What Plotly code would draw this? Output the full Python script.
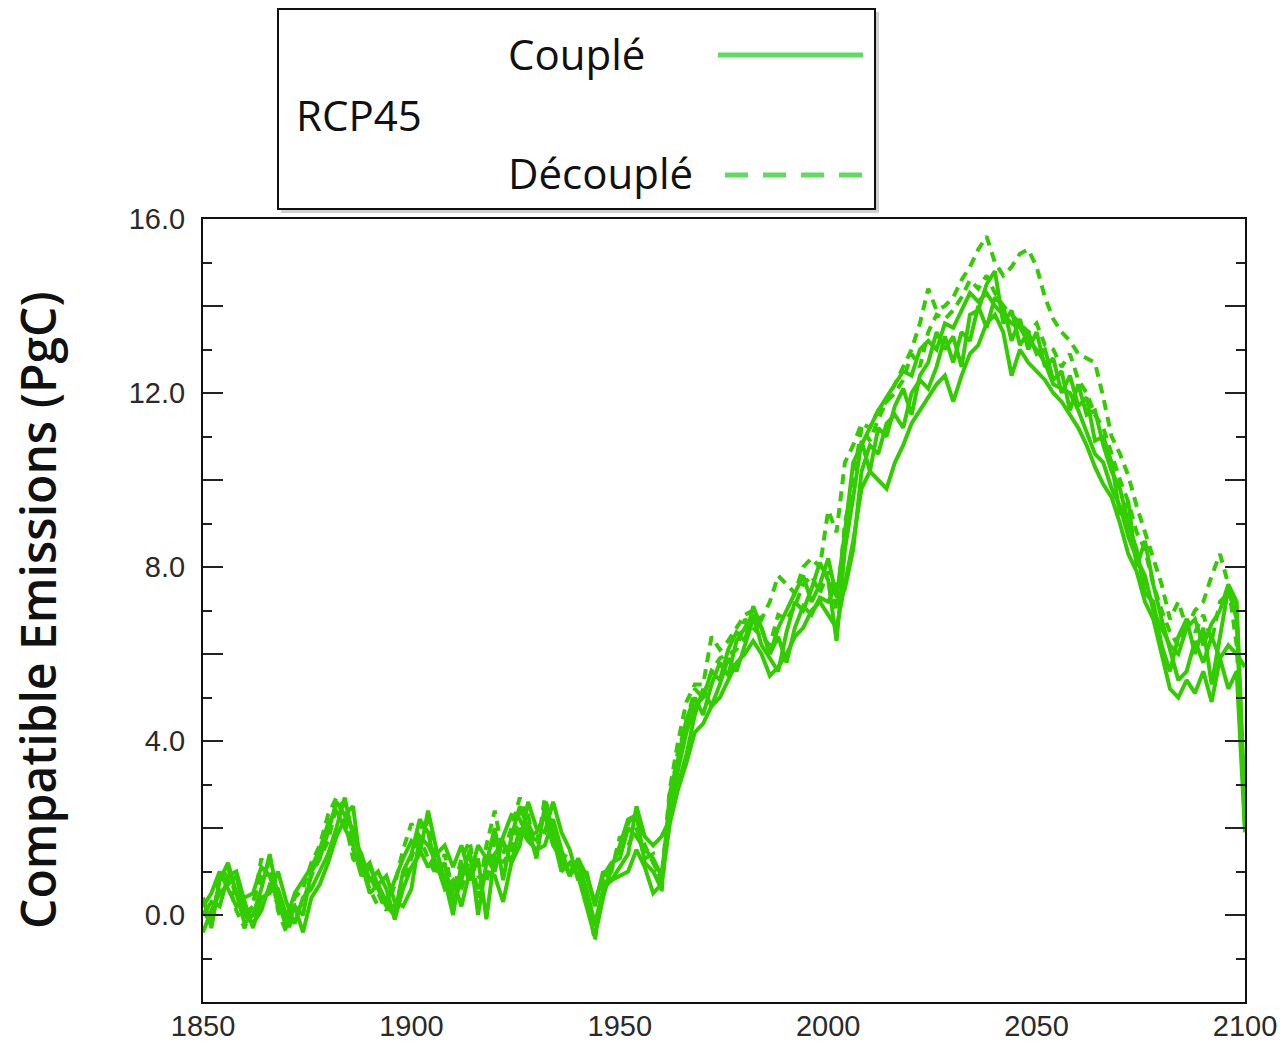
import plotly.graph_objects as go

years = list(range(1850, 2101, 2))

couple_a = [0.4, -0.3, 0.8, 1.2, 0.5, -0.2, 0.0, 0.6, 1.4, 0.4,
            -0.3, 0.2, 0.0, 1.0, 1.3, 1.9, 2.6, 2.3, 2.5, 1.0,
            1.2, 0.6, 0.2, 0.0, 1.0, 1.4, 2.2, 1.9, 1.0, 1.2,
            0.2, 0.8, 1.5, 0.0, 1.2, 2.0, 0.8, 1.8, 2.5, 2.0,
            1.3, 2.5, 1.8, 1.0, 1.2, 0.9, 0.2, -0.5, 0.4, 1.1,
            1.6, 2.2, 2.3, 1.2, 1.0, 0.6, 2.8, 3.6, 4.5, 5.0,
            4.6, 5.3, 5.8, 5.5, 6.3, 6.6, 6.9, 6.2, 5.9, 5.6,
            6.5, 7.2, 7.0, 7.5, 8.1, 7.7, 6.3, 8.4, 9.6, 10.9,
            10.2, 11.2, 11.0, 11.7, 12.1, 11.5, 12.4, 12.7, 13.4, 13.0,
            13.3, 12.6, 13.8, 13.9, 14.5, 14.8, 13.6, 13.9, 13.1, 13.4,
            12.9, 13.0, 12.3, 12.5, 11.6, 12.2, 11.5, 11.6, 10.8, 10.2,
            9.8, 9.0, 8.4, 7.4, 7.2, 6.2, 5.6, 6.4, 6.8, 6.0,
            6.6, 5.3, 6.4, 7.5, 6.8, 2.0]

couple_b = [0.0, 0.3, 0.2, 0.9, 1.0, 0.3, -0.3, 0.4, 0.5, 1.0,
            0.3, -0.2, 0.4, 0.6, 1.0, 1.4, 2.0, 2.7, 1.8, 1.4,
            0.8, 1.0, 0.6, -0.1, 0.6, 1.1, 1.4, 2.4, 1.5, 0.8,
            0.0, 1.2, 0.8, 1.3, -0.1, 1.4, 1.7, 1.2, 1.6, 2.6,
            2.0, 1.9, 2.6, 1.9, 1.5, 0.8, 1.0, 0.2, 1.0, 0.8,
            1.1, 1.4, 2.5, 1.8, 1.6, 1.8, 2.2, 3.0, 3.7, 4.6,
            5.2, 4.8, 5.3, 5.9, 5.6, 6.2, 6.8, 6.6, 6.0, 6.4,
            5.8, 6.6, 7.1, 6.9, 7.3, 7.2, 7.6, 7.5, 8.4, 10.2,
            10.8, 10.6, 11.3, 11.5, 11.2, 12.0, 12.3, 12.1, 12.6, 13.3,
            12.7, 13.4, 13.2, 14.0, 13.5, 14.2, 14.0, 13.2, 13.7, 13.0,
            13.4, 12.6, 12.8, 12.0, 12.4, 11.7, 11.9, 10.9, 11.0, 10.4,
            9.2, 9.5, 8.0, 8.6, 7.6, 6.8, 6.1, 5.4, 5.6, 6.3,
            5.8, 6.4, 5.9, 6.2, 6.0, 5.7]

couple_c = [-0.4, 0.1, 0.5, 0.7, 0.9, 0.0, -0.2, 0.1, 0.7, 0.6,
            0.0, 0.2, -0.4, 0.4, 0.7, 1.2, 1.8, 2.2, 2.0, 1.2,
            0.5, 0.7, 0.9, 0.3, 0.2, 0.6, 1.8, 1.6, 1.2, 0.6,
            0.8, 0.2, 1.0, 0.6, 1.0, 0.9, 0.3, 1.2, 2.0, 1.7,
            1.5, 1.6, 2.2, 1.5, 0.9, 1.2, 0.6, -0.2, 0.6, 0.8,
            0.9, 1.0, 1.5, 1.1, 0.5, 0.7, 2.1, 2.9, 3.5, 4.2,
            4.4, 4.8, 5.0, 5.4, 5.8, 6.0, 6.3, 6.0, 5.5, 5.7,
            6.0, 6.4, 6.6, 7.0, 7.2, 6.9, 6.6, 7.6, 8.6, 9.8,
            10.2, 10.0, 9.8, 10.4, 10.8, 11.3, 11.6, 11.9, 12.2, 12.4,
            11.8, 12.4, 12.9, 13.1, 13.6, 13.8, 13.4, 12.4, 13.0, 12.7,
            12.5, 12.3, 12.0, 11.8, 11.5, 11.2, 10.8, 10.3, 9.9, 9.6,
            9.0, 8.3, 7.9, 7.2, 6.8, 6.0, 5.2, 5.0, 5.4, 5.1,
            5.6, 4.9, 5.9, 5.2, 5.6, 1.9]

couple_d = [0.2, 0.5, 1.0, 0.6, 0.2, 0.4, 0.5, 1.1, 0.9, 0.3,
            -0.1, 0.5, 0.8, 1.1, 1.5, 2.1, 2.4, 2.0, 1.6, 0.9,
            1.1, 0.7, 0.3, 0.8, 1.3, 1.7, 1.5, 1.1, 1.4, 1.6,
            1.1, 1.6, 0.9, 1.6, 1.3, 1.0, 1.8, 2.3, 2.2, 1.8,
            1.9, 2.3, 1.6, 1.3, 0.9, 1.3, 0.9, 0.3, 0.9, 1.2,
            1.3, 2.0, 1.8, 1.5, 1.3, 0.9, 2.5, 3.4, 4.2, 4.8,
            5.0, 5.6, 5.4, 6.1, 6.5, 6.3, 7.1, 6.6, 6.0, 6.6,
            7.0, 7.4, 7.8, 7.2, 7.6, 8.2, 7.3, 8.8, 10.4, 10.8,
            11.2, 11.6, 11.9, 12.2, 12.5, 12.4, 13.0, 13.2, 13.0, 13.6,
            13.5, 13.9, 14.3, 14.1, 14.3, 14.0, 13.8, 13.6, 13.5, 13.2,
            13.0, 12.7, 12.2, 12.1, 12.0, 11.6, 11.1, 10.6, 10.4, 9.8,
            9.4, 8.7, 8.2, 7.8, 7.0, 6.6, 6.2, 6.0, 6.6, 6.8,
            6.2, 6.7, 7.0, 7.6, 7.2, 2.4]

decouple_e = [0.3, 0.0, 0.7, 1.1, 0.4, 0.0, 0.2, 1.3, 0.8, 0.2,
              -0.2, 0.4, 0.6, 1.2, 1.6, 2.3, 2.7, 2.2, 1.3, 1.0,
              0.9, 0.5, 0.1, 0.7, 1.5, 2.1, 1.8, 1.3, 0.9, 1.4,
              0.5, 1.3, 1.7, 0.4, 1.6, 2.4, 1.4, 2.0, 2.7, 2.1,
              1.7, 2.4, 1.9, 1.2, 1.0, 1.2, 0.3, -0.3, 0.5, 1.2,
              1.5, 2.1, 2.4, 1.6, 1.2, 0.8, 2.9, 4.0, 4.9, 5.3,
              5.3, 6.4, 6.1, 6.3, 6.6, 6.9, 7.0, 6.8, 7.2, 7.8,
              7.6, 7.4, 8.0, 8.2, 8.0, 9.3, 8.8, 10.4, 10.8, 11.3,
              11.2, 11.6, 11.8, 12.2, 12.6, 13.0, 13.6, 14.4, 13.9, 14.0,
              14.2, 14.6, 14.9, 15.3, 15.6, 15.0, 14.7, 14.9, 15.2, 15.3,
              14.9, 14.2, 13.7, 13.4, 13.2, 12.9, 12.8, 12.7, 11.9, 11.0,
              10.6, 10.1, 9.4, 8.8, 8.2, 7.6, 6.8, 7.2, 6.6, 7.0,
              7.2, 7.8, 8.3, 7.6, 6.2, 2.6]

decouple_f = [0.1, -0.2, 0.9, 0.8, 0.1, -0.3, 0.3, 0.9, 1.2, 0.1,
              -0.4, 0.0, 0.3, 0.9, 1.3, 1.7, 2.5, 2.6, 1.5, 1.1,
              0.6, 0.2, 0.4, 0.2, 0.8, 1.3, 2.0, 2.1, 1.1, 1.0,
              0.4, 0.6, 1.3, 0.9, 0.7, 1.8, 1.2, 1.5, 2.4, 2.3,
              1.4, 2.7, 2.0, 1.4, 1.3, 1.0, 0.5, -0.6, 0.7, 1.0,
              1.8, 1.6, 2.0, 1.3, 1.4, 0.5, 2.6, 3.8, 4.4, 5.2,
              5.0, 5.6, 5.9, 6.0, 6.1, 6.8, 6.6, 6.4, 6.2, 6.9,
              6.8, 7.1, 7.6, 7.8, 7.4, 7.9, 7.0, 9.0, 10.0, 11.2,
              10.9, 11.4, 11.8, 12.0, 12.3, 12.9, 12.6, 13.4, 13.8, 13.7,
              13.9, 14.2, 14.6, 14.4, 14.7, 14.3, 14.0, 13.8, 13.6, 13.4,
              13.6, 13.1, 13.0, 12.6, 12.9, 12.3, 12.0, 11.5, 11.2, 10.6,
              10.0, 9.5, 8.8, 8.4, 7.6, 7.0, 6.5, 6.2, 6.8, 6.5,
              6.9, 6.3, 7.2, 7.4, 7.0, 2.1]

solid_series = [couple_a, couple_b, couple_c, couple_d]
dashed_series = [decouple_e, decouple_f]

y_tickvals = [-2, 0, 2, 4, 6, 8, 10, 12, 14, 16]
y_ticktext = ["", "0.0", "", "4.0", "", "8.0", "", "12.0", "", "16.0"]
x_tickvals = [1850, 1900, 1950, 2000, 2050, 2100]
x_ticktext = ["1850", "1900", "1950", "2000", "2050", "2100"]

GREEN = "#33cc00"
LEG_GREEN = "#5ddc5d"

fig = go.Figure()
for s in dashed_series:
    fig.add_trace(go.Scatter(x=years, y=s, mode="lines",
                             line=dict(color=GREEN, width=4, dash="10px,7px"),
                             showlegend=False, hoverinfo="skip"))
for s in solid_series:
    fig.add_trace(go.Scatter(x=years, y=s, mode="lines",
                             line=dict(color=GREEN, width=4),
                             showlegend=False, hoverinfo="skip"))

W, H = 1283, 1043
L, R, T, B = 203, 38, 219, 41
PW, PH = W - L - R, H - T - B

def px(x):
    return (x - L) / PW

def py(y):
    return (H - B - y) / PH

tick_font = dict(family="Liberation Sans", size=29, color="#2a2a2a")

fig.update_layout(
    width=W, height=H,
    margin=dict(l=L, r=R, t=T, b=B, autoexpand=False),
    paper_bgcolor="white", plot_bgcolor="white",
    showlegend=False,
    xaxis=dict(range=[1850, 2100], tickmode="array", tickvals=x_tickvals,
               ticktext=x_ticktext, ticks="", showgrid=False, zeroline=False,
               showline=True, linecolor="#111", linewidth=2, mirror=True,
               automargin=False, tickfont=tick_font, ticklabelstandoff=-3),
    yaxis=dict(range=[-2, 16], tickmode="array", tickvals=y_tickvals,
               ticktext=y_ticktext, ticks="inside", ticklen=20, tickwidth=2,
               tickcolor="#222", showgrid=False, zeroline=False,
               showline=True, linecolor="#111", linewidth=2, mirror="ticks",
               automargin=False, tickfont=tick_font, ticklabelstandoff=10,
               minor=dict(dtick=1, tick0=0, ticks="inside", ticklen=9,
                          tickwidth=2, tickcolor="#222", showgrid=False)),
)

# legend box with shadow
fig.add_shape(type="rect", xref="paper", yref="paper",
              x0=px(281), x1=px(879), y0=py(213), y1=py(12),
              line=dict(width=0), fillcolor="rgba(0,0,0,0.18)", layer="below")
fig.add_shape(type="rect", xref="paper", yref="paper",
              x0=px(278), x1=px(875), y0=py(209), y1=py(9),
              line=dict(color="#111", width=2), fillcolor="white")
fig.add_shape(type="line", xref="paper", yref="paper",
              x0=px(718), x1=px(863), y0=py(55), y1=py(55),
              line=dict(color=LEG_GREEN, width=5))
fig.add_shape(type="line", xref="paper", yref="paper",
              x0=px(725), x1=px(863), y0=py(175), y1=py(175),
              line=dict(color=LEG_GREEN, width=5, dash="23px,15px"))

leg_font = dict(family="Open Sans", size=42, color="#111")
fig.add_annotation(text="Couplé", xref="paper", yref="paper",
                   x=px(506), y=py(53), xanchor="left", yanchor="middle",
                   showarrow=False, font=leg_font)
fig.add_annotation(text="RCP45", xref="paper", yref="paper",
                   x=px(294), y=py(115), xanchor="left", yanchor="middle",
                   showarrow=False, font=leg_font)
fig.add_annotation(text="Découplé", xref="paper", yref="paper",
                   x=px(506), y=py(172), xanchor="left", yanchor="middle",
                   showarrow=False, font=leg_font)

fig.add_annotation(text="Compatible Emissions (PgC)", xref="paper", yref="paper",
                   x=px(37), y=py(610), xanchor="center", yanchor="middle",
                   textangle=-90, showarrow=False,
                   font=dict(family="Open Sans", size=48, color="#111", weight=600))

fig.write_html("out.html", config=dict(displayModeBar=False, staticPlot=True),
               post_script="document.body.style.margin='0';document.body.style.overflow='hidden';")
